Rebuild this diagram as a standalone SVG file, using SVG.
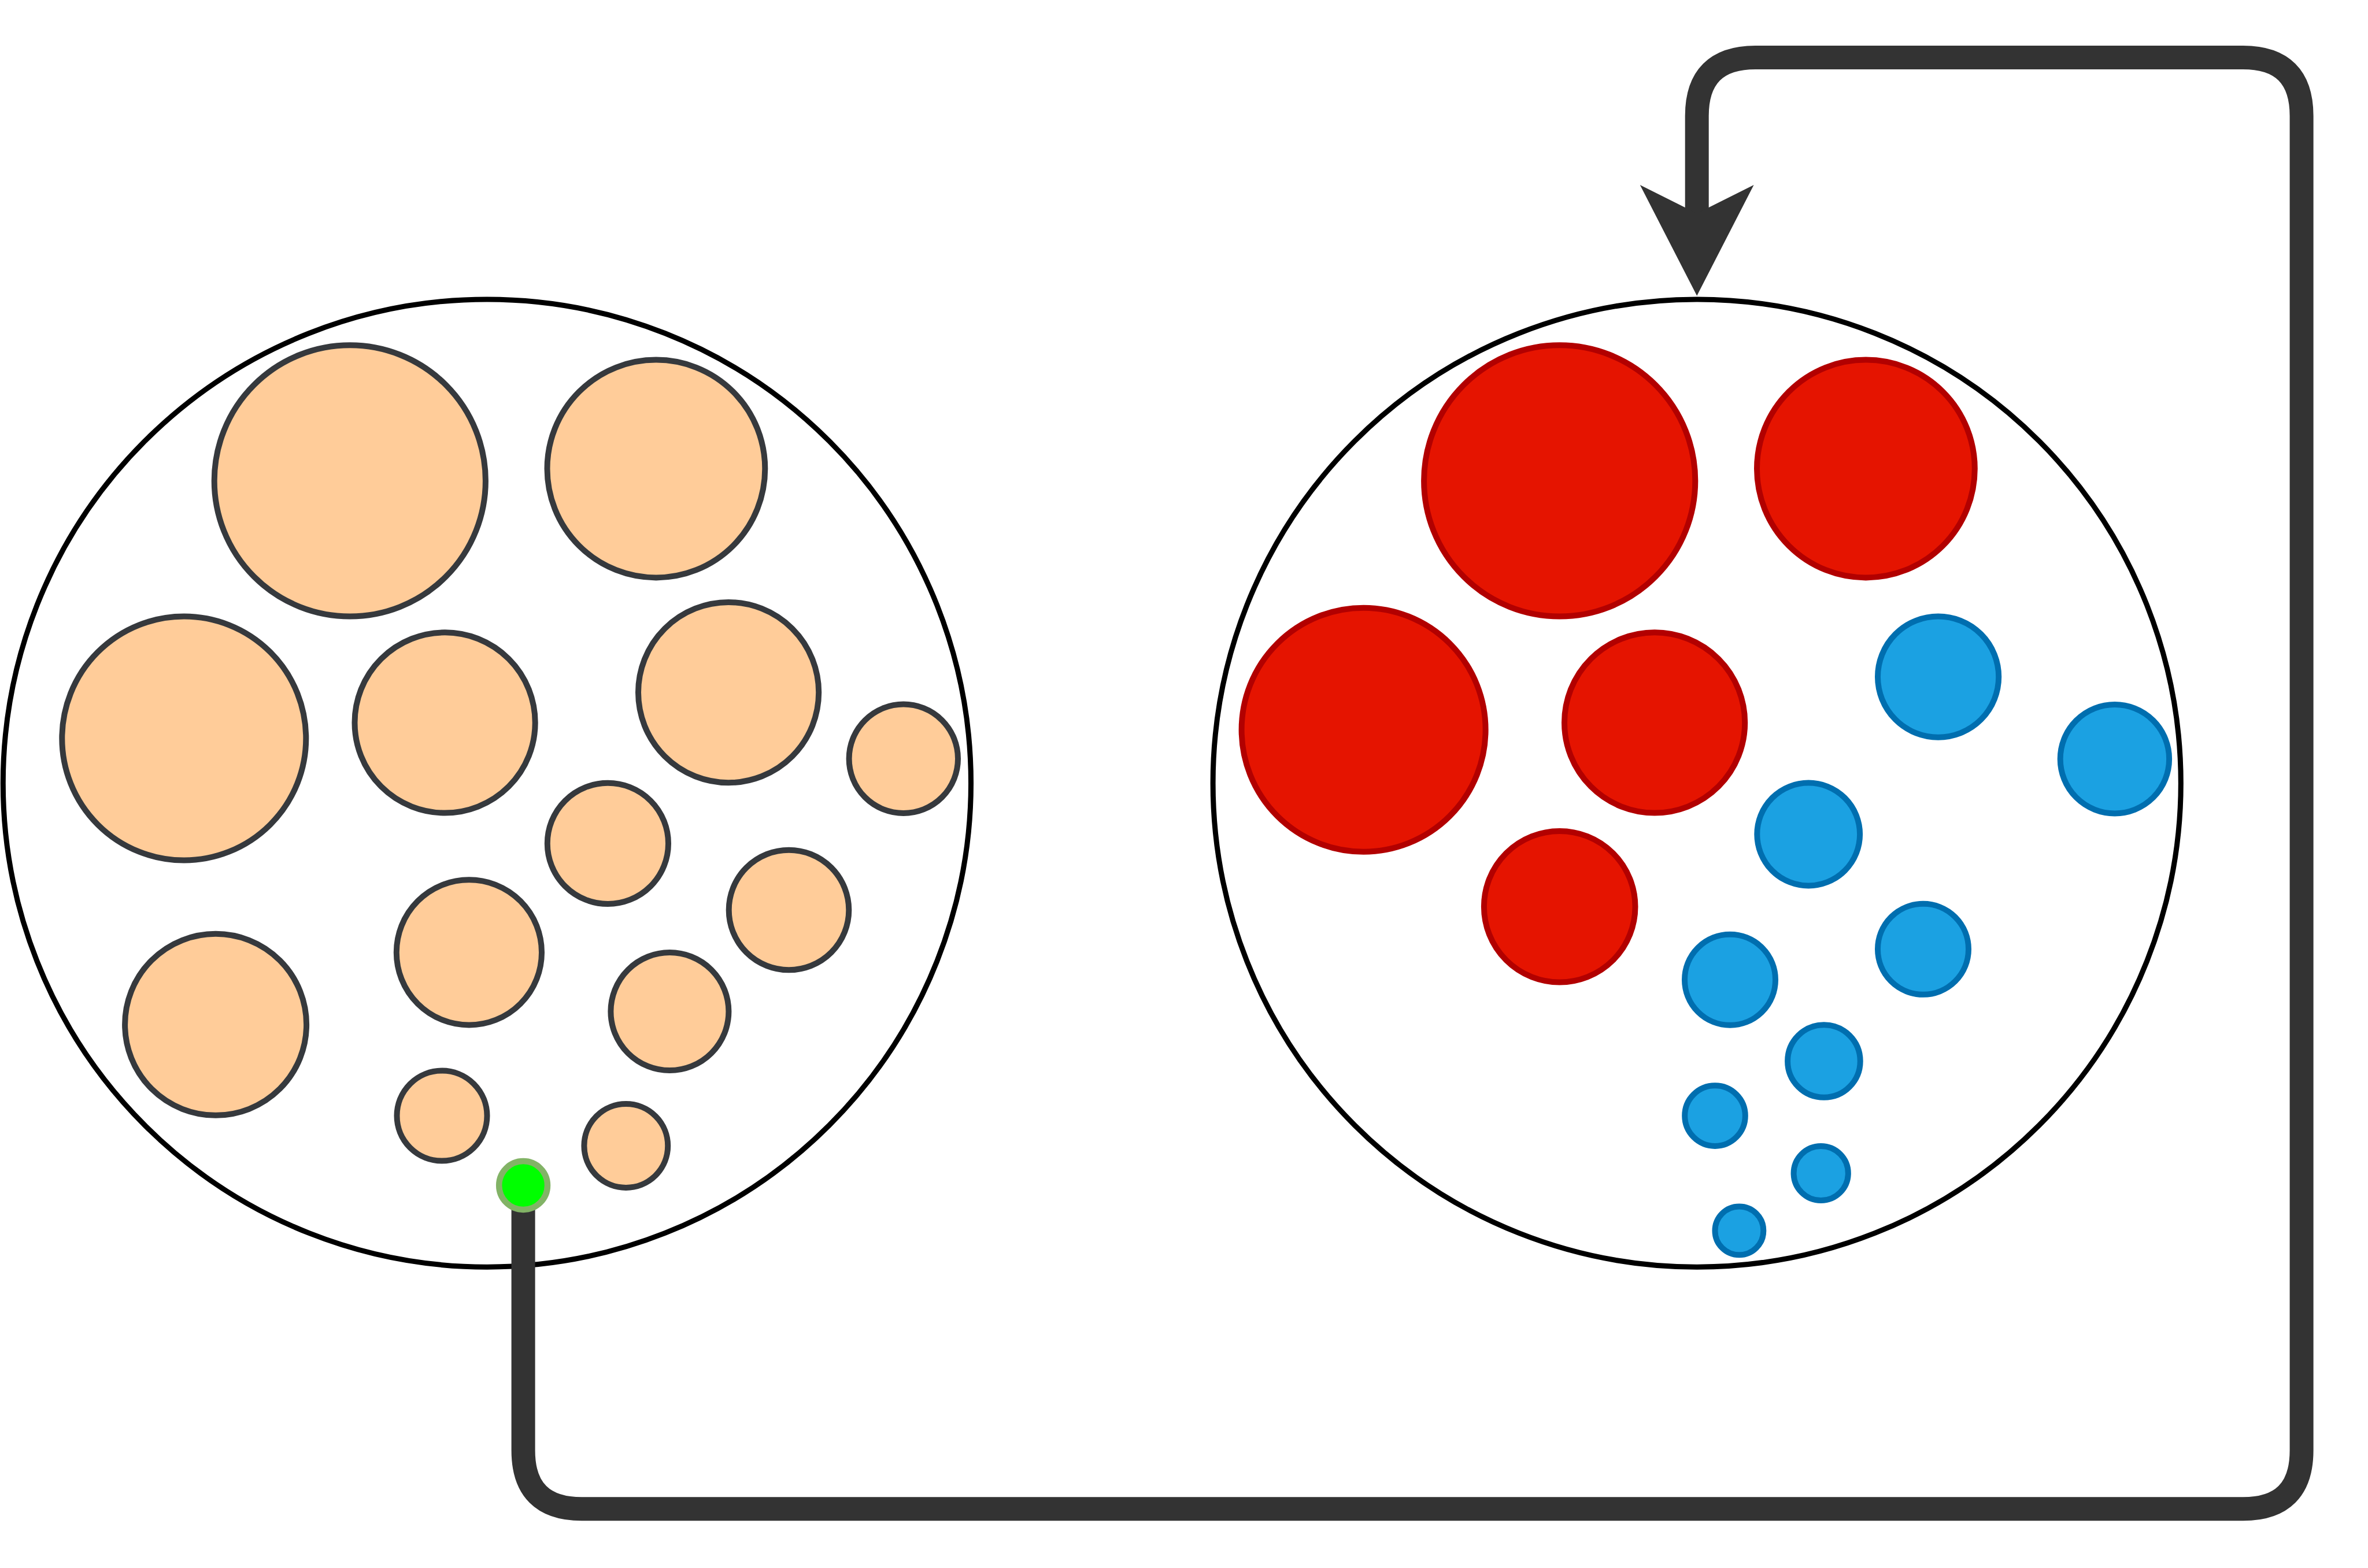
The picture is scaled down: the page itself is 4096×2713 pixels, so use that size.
<svg xmlns="http://www.w3.org/2000/svg" width="4096" height="2713" viewBox="0 0 4096 2713">
<style>
.big{fill:#ffffff;stroke:#000000;stroke-width:9}
.peach{fill:#ffcc99;stroke:#36393d;stroke-width:10}
.red{fill:#e51400;stroke:#b20000;stroke-width:10}
.blue{fill:#1ba1e2;stroke:#006eaf;stroke-width:10}
.start{fill:#00ff00;stroke:#82b366;stroke-width:10.5}
.edge{fill:none;stroke:#333333;stroke-width:41;stroke-linejoin:round}
.head{fill:#333333;stroke:none}
</style>
<rect width="4096" height="2713" fill="#ffffff"/>
<g id="container-left"><circle class="big" cx="842.4" cy="1355.1" r="837.1"/></g>
<g id="container-right"><circle class="big" cx="2935.2" cy="1355.1" r="837.1"/></g>
<g id="left-particles">
<g id="l1"><circle class="peach" cx="605.3" cy="831.9" r="234.6"/></g>
<g id="l2"><circle class="peach" cx="1134.9" cy="811.0" r="188.4"/></g>
<g id="l3"><circle class="peach" cx="318.3" cy="1277.5" r="211.0"/></g>
<g id="l4"><circle class="peach" cx="769.6" cy="1250.4" r="156.1"/></g>
<g id="l5"><circle class="peach" cx="1260.1" cy="1198.1" r="156.1"/></g>
<g id="l6"><circle class="peach" cx="1562.8" cy="1312.8" r="94.2"/></g>
<g id="l7"><circle class="peach" cx="1051.4" cy="1459.4" r="104.6"/></g>
<g id="l8"><circle class="peach" cx="1364.5" cy="1574.5" r="103.8"/></g>
<g id="l9"><circle class="peach" cx="811.4" cy="1647.9" r="125.6"/></g>
<g id="l10"><circle class="peach" cx="1158.4" cy="1750.1" r="102.0"/></g>
<g id="l11"><circle class="peach" cx="373.1" cy="1772.8" r="157.0"/></g>
<g id="l12"><circle class="peach" cx="764.5" cy="1930.6" r="78.0"/></g>
<g id="l13"><circle class="peach" cx="1082.8" cy="1982.5" r="72.4"/></g>
</g>
<g id="right-particles">
<g id="r1"><circle class="red" cx="2697.7" cy="831.9" r="234.6"/></g>
<g id="r2"><circle class="red" cx="3227.4" cy="811.0" r="188.4"/></g>
<g id="r3"><circle class="red" cx="2358.6" cy="1262.7" r="211.0"/></g>
<g id="r4"><circle class="red" cx="2862.1" cy="1250.4" r="156.1"/></g>
<g id="r5"><circle class="red" cx="2697.7" cy="1568.7" r="130.8"/></g>
<g id="b1"><circle class="blue" cx="3352.6" cy="1171.1" r="104.6"/></g>
<g id="b2"><circle class="blue" cx="3657.9" cy="1313.2" r="94.2"/></g>
<g id="b3"><circle class="blue" cx="3128.2" cy="1443.5" r="88.9"/></g>
<g id="b4"><circle class="blue" cx="3326.5" cy="1642.3" r="78.5"/></g>
<g id="b5"><circle class="blue" cx="2992.5" cy="1695.2" r="78.5"/></g>
<g id="b6"><circle class="blue" cx="3154.9" cy="1836.0" r="62.8"/></g>
<g id="b7"><circle class="blue" cx="2966.5" cy="1930.6" r="52.3"/></g>
<g id="b8"><circle class="blue" cx="3149.7" cy="2030.0" r="47.1"/></g>
<g id="b9"><circle class="blue" cx="3008.4" cy="2129.4" r="41.9"/></g>
</g>
<g id="connectors">
<path class="edge" d="M905.1 2060 V2509.6 Q905.1 2610.8 1006.3 2610.8 H3879.9 Q3981.1 2610.8 3981.1 2509.6 V200.6 Q3981.1 99.4 3879.9 99.4 H3036.4 Q2935.2 99.4 2935.2 200.6 V380"/>
<polygon class="head" points="2836.8,320 2935.2,369.2 3033.6,320 2935.2,511.7"/>
</g>
<g id="start-point"><circle class="start" cx="905.1" cy="2051.0" r="41.9"/></g>
</svg>
